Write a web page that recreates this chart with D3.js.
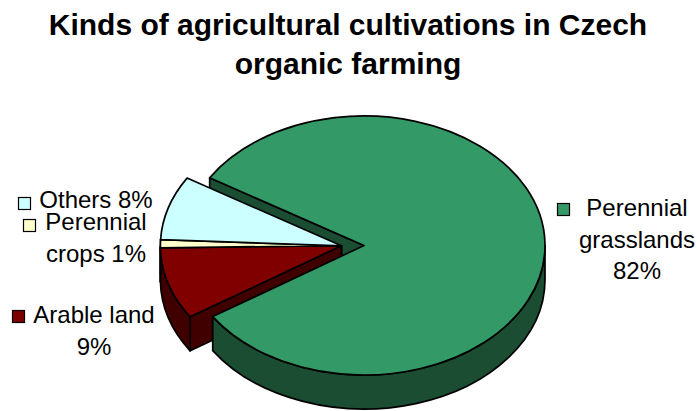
<!DOCTYPE html>
<html>
<head>
<meta charset="utf-8">
<script src="https://cdn.jsdelivr.net/npm/d3@7"></script>
<style>
  body { margin: 0; background: #fff; }
  text { font-family: "Liberation Sans", Arial, sans-serif; fill: #000; }
</style>
</head>
<body>
<div id="chart"></div>
<script>
// data, in clockwise order starting at the upper-left edge of the big slice
const categories = ['Perennial grasslands', 'Arable land', 'Perennial crops', 'Others'];
const shares = [82, 9, 1, 8];
const labelLines = [['Perennial', 'grasslands', '82%'], ['Arable land', '9%'], ['Perennial', 'crops 1%'], ['Others 8%']];
const exploded = [false, true, true, true];
const titleLines = ['Kinds of agricultural cultivations in Czech', 'organic farming'];

// styling / layout
const topColors = ['#339966', '#800000', '#FFFFCC', '#CCFFFF'];
const sideColors = ['#1B4D33', '#400000', '#80806A', '#668080'];
const SIZE = {width: 697, height: 411};
const PIE = {cx: 364, cy: 245.5, rx: 181, ry: 129.5, depth: 34, explode: 22.6, startDeg: -58.5};
const LABELS = [
  {key: [557, 203], x: 637, y: 216},
  {key: [12, 310], x: 94, y: 323},
  {key: [23, 219], x: 96, y: 230},
  {key: [18, 197], x: 96, y: 208}
];
const LINE_H = 31.5;

const svg = d3.select('#chart').append('svg')
  .attr('width', SIZE.width)
  .attr('height', SIZE.height);

// title
svg.append('g').selectAll('text')
  .data(titleLines)
  .enter().append('text')
  .attr('x', 348)
  .attr('y', (d, i) => 35 + i * 39)
  .attr('text-anchor', 'middle')
  .style('font-weight', 'bold')
  .style('font-size', '30px')
  .text(d => d);

// pie angles
const start = PIE.startDeg * Math.PI / 180;
const pie = d3.pie().sort(null).startAngle(start).endAngle(start + 2 * Math.PI);
const arcs = pie(shares).map((d, i) => Object.assign(d, {i: i}));

const k = PIE.ry / PIE.rx;   // vertical squash
const R = PIE.rx;
const D = PIE.depth / k;     // depth in unsquashed units

const root = svg.append('g')
  .attr('transform', 'translate(' + PIE.cx + ',' + PIE.cy + ') scale(1,' + k + ')');

// the exploded slices are pulled out together, along the bisector of the group
const group = arcs.filter(d => exploded[d.i]);
const groupMid = (d3.min(group, d => d.startAngle) + d3.max(group, d => d.endAngle)) / 2;
function offset(d) {
  if (!exploded[d.i]) return [0, 0];
  return [PIE.explode * Math.sin(groupMid), -PIE.explode * Math.cos(groupMid)];
}
function pt(a, dy) { return [R * Math.sin(a), -R * Math.cos(a) + (dy || 0)]; }

function wallPath(a) {
  const p = d3.path();
  const t = pt(a), b = pt(a, D);
  p.moveTo(0, 0); p.lineTo(t[0], t[1]); p.lineTo(b[0], b[1]); p.lineTo(0, D); p.closePath();
  return p.toString();
}
function sidePath(a0, a1) {
  const p = d3.path();
  const t0 = pt(a0), b1 = pt(a1, D);
  p.moveTo(t0[0], t0[1]);
  p.arc(0, 0, R, a0 - Math.PI / 2, a1 - Math.PI / 2, false);
  p.lineTo(b1[0], b1[1]);
  p.arc(0, D, R, a1 - Math.PI / 2, a0 - Math.PI / 2, true);
  p.closePath();
  return p.toString();
}

const wallLayer = root.append('g');
const sideLayer = root.append('g');
const topLayer = root.append('g');

function styleFace(sel) {
  return sel.attr('stroke', '#000')
    .attr('stroke-width', 1.7)
    .attr('stroke-linejoin', 'round')
    .attr('vector-effect', 'non-scaling-stroke');
}

// radial walls that face the viewer, painted back to front
const walls = [];
arcs.forEach(d => {
  if (Math.sin(d.startAngle) < 0) walls.push({d: d, a: d.startAngle});
  if (Math.sin(d.endAngle) > 0) walls.push({d: d, a: d.endAngle});
});
walls.sort((u, v) => -Math.cos(u.a) + Math.cos(v.a));
walls.forEach(w => {
  const o = offset(w.d);
  styleFace(wallLayer.append('path'))
    .attr('transform', 'translate(' + o[0] + ',' + o[1] + ')')
    .attr('d', wallPath(w.a))
    .attr('fill', sideColors[w.d.i]);
});

arcs.forEach(d => {
  const o = offset(d);
  const tr = 'translate(' + o[0] + ',' + o[1] + ')';
  // outer rim, front half only
  const lo = Math.max(d.startAngle, Math.PI / 2);
  const hi = Math.min(d.endAngle, 3 * Math.PI / 2);
  if (hi > lo) {
    styleFace(sideLayer.append('path'))
      .attr('transform', tr)
      .attr('d', sidePath(lo, hi))
      .attr('fill', sideColors[d.i]);
  }
  // top face
  styleFace(topLayer.append('path'))
    .attr('transform', tr)
    .attr('d', d3.arc().innerRadius(0).outerRadius(R)(d))
    .attr('fill', topColors[d.i]);
});

// data labels with legend keys
const labels = svg.append('g').selectAll('g')
  .data(categories)
  .enter().append('g');

labels.append('rect')
  .attr('x', (d, i) => LABELS[i].key[0] + 0.5)
  .attr('y', (d, i) => LABELS[i].key[1] + 0.5)
  .attr('width', 12)
  .attr('height', 12)
  .attr('fill', (d, i) => topColors[i])
  .attr('stroke', '#000')
  .attr('stroke-width', 1.2);

labels.each(function (d, i) {
  d3.select(this).selectAll('text')
    .data(labelLines[i])
    .enter().append('text')
    .attr('x', LABELS[i].x)
    .attr('y', (t, j) => LABELS[i].y + j * LINE_H)
    .attr('text-anchor', 'middle')
    .style('font-size', '24px')
    .text(t => t);
});
</script>
</body>
</html>
